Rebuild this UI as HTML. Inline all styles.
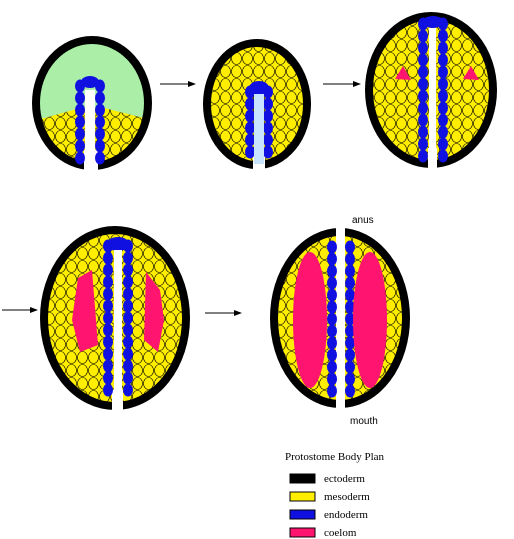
<!DOCTYPE html>
<html><head><meta charset="utf-8"><style>
html,body{margin:0;padding:0;background:#fff;}
svg{display:block}
text{font-family:"Liberation Serif",serif;}
</style></head><body>
<svg id="s" width="514" height="539" viewBox="0 0 514 539" xmlns="http://www.w3.org/2000/svg">
<defs>
<pattern id="cells" width="11" height="13" patternUnits="userSpaceOnUse">
<rect width="11" height="13" fill="#ffee00"/>
<ellipse cx="5.5" cy="6.5" rx="5" ry="6" fill="#ffee00" stroke="#000" stroke-width="0.6"/>
</pattern>
<clipPath id="c1"><ellipse cx="92" cy="103" rx="56" ry="63"/></clipPath>
</defs>
<g id="g"></g>
<text x="352" y="223" font-size="10" style="font-family:'Liberation Sans',sans-serif">anus</text>
<text x="350" y="424" font-size="10" style="font-family:'Liberation Sans',sans-serif">mouth</text>
<text x="285" y="460" font-size="11">Protostome Body Plan</text>
<g>
<rect x="290" y="474" width="25" height="9" fill="#000" stroke="#000"/>
<text x="324" y="482" font-size="11">ectoderm</text>
<rect x="290" y="492" width="25" height="9" fill="#ffee00" stroke="#000"/>
<text x="324" y="500" font-size="11">mesoderm</text>
<rect x="290" y="510" width="25" height="9" fill="#1010e0" stroke="#000"/>
<text x="324" y="518" font-size="11">endoderm</text>
<rect x="290" y="528" width="25" height="9" fill="#ff1470" stroke="#000"/>
<text x="324" y="536" font-size="11">coelom</text>
</g>
</svg>
<script>
const NS="http://www.w3.org/2000/svg";
const G=document.getElementById('g');
function el(t,a,p){const e=document.createElementNS(NS,t);for(const k in a)e.setAttribute(k,a[k]);(p||G).appendChild(e);return e;}
function gut(x1,x2,yTop,yBot){
  for(let y=yTop+10;y<=yBot;y+=12){
    const a=el('ellipse',{cx:x1,cy:y,rx:5,ry:6.5,fill:'#1010e0'});
    
    
    const b=el('ellipse',{cx:x2,cy:y,rx:5,ry:6.5,fill:'#1010e0'});
    
    
  }
}
function arrow(x1,x2,y){
  const l=el('line',{x1:x1,y1:y,x2:x2-6,y2:y,stroke:'#000','stroke-width':1});
  
  
  el('polygon',{points:`${x2},${y} ${x2-8},${y-3} ${x2-8},${y+3}`,fill:'#000'});
}
function ecto(cx,cy,rx,ry){
  const e=el('ellipse',{cx:cx,cy:cy,rx:rx,ry:ry,fill:'none',stroke:'#000','stroke-width':8});
  
  
}
// Embryo 1
let e1=el('ellipse',{cx:92,cy:103,rx:56,ry:63,fill:'#aaeea8'});


el('polygon',{points:'30,122 80,108 104,108 160,122 160,175 30,175',fill:'url(#cells)','clip-path':'url(#c1)'});
ecto(92,103,56,63);
el('rect',{x:84,y:150,width:14,height:22,fill:'#fff'});
gut(80,100,76,162);
el('ellipse',{cx:90,cy:82,rx:9,ry:6,fill:'#1010e0'});
el('rect',{x:85,y:90,width:10,height:78,fill:'#fff'});
// Embryo 2
el('ellipse',{cx:257,cy:104,rx:50,ry:61,fill:'url(#cells)'});
ecto(257,104,50,61);
el('rect',{x:253,y:150,width:12,height:22,fill:'#fff'});
gut(250,268,82,160);
el('ellipse',{cx:259,cy:88,rx:10,ry:7,fill:'#1010e0'});
el('rect',{x:254,y:94,width:10,height:70,fill:'#c8e4ff'});
// Embryo 3
el('ellipse',{cx:431,cy:90,rx:62,ry:74,fill:'url(#cells)'});
ecto(431,90,62,74);
el('rect',{x:428,y:148,width:9,height:22,fill:'#fff'});
gut(423,443,14,158);
el('ellipse',{cx:433,cy:22,rx:11,ry:6,fill:'#1010e0'});
el('rect',{x:429,y:28,width:7,height:140,fill:'#fff'});
let p1=el('polygon',{points:'395,79 403,66 411,80',fill:'#ff1470'});


let p2=el('polygon',{points:'463,79 471,66 479,80',fill:'#ff1470'});


// Embryo 4
el('ellipse',{cx:115,cy:318,rx:71,ry:88,fill:'url(#cells)'});
ecto(115,318,71,88);
el('rect',{x:112,y:390,width:11,height:25,fill:'#fff'});
gut(108,128,236,390);
el('ellipse',{cx:118,cy:244,rx:11,ry:7,fill:'#1010e0'});
el('rect',{x:114,y:250,width:8,height:150,fill:'#fff'});
let c4a=el('path',{d:'M78,278 L92,270 L98,345 L80,352 L72,320 Z',fill:'#ff1470'});


let c4b=el('path',{d:'M146,272 L160,290 L164,320 L158,352 L144,340 Z',fill:'#ff1470'});


// Embryo 5
el('ellipse',{cx:340,cy:318,rx:66,ry:86,fill:'url(#cells)'});
ecto(340,318,66,86);
el('rect',{x:336,y:225,width:9,height:190,fill:'#fff'});
gut(332,350,237,395);
let c5a=el('ellipse',{cx:310,cy:320,rx:17,ry:68,fill:'#ff1470'});


let c5b=el('ellipse',{cx:370,cy:320,rx:17,ry:68,fill:'#ff1470'});


// arrows
arrow(160,196,84);arrow(323,361,84);arrow(2,38,310);arrow(205,242,313);
</script>
</body></html>
